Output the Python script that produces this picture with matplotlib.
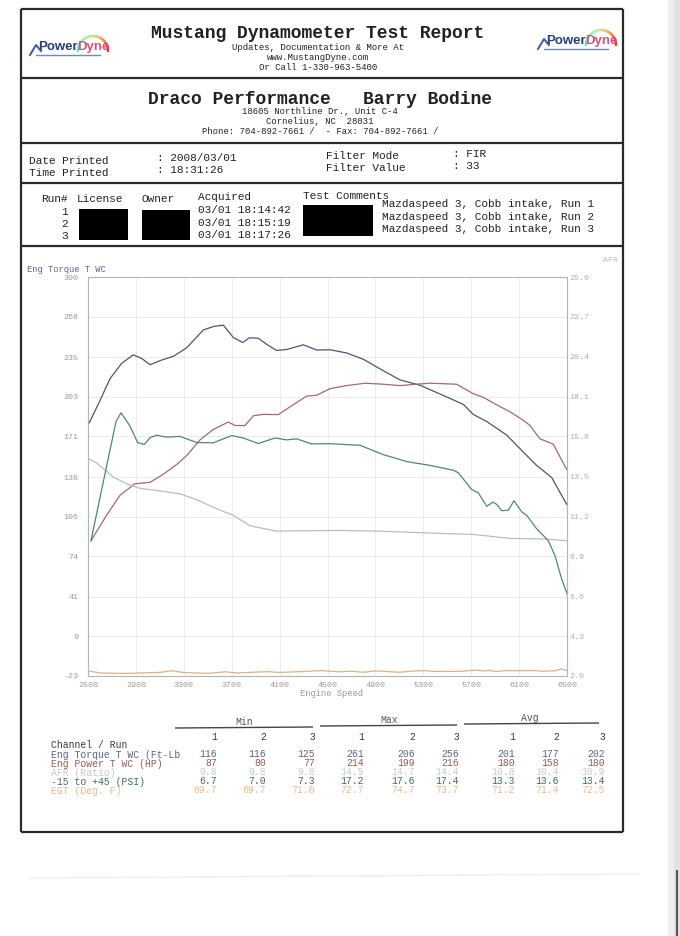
import matplotlib
matplotlib.use("Agg")
import matplotlib.pyplot as plt
from matplotlib.patches import Rectangle
import numpy as np

# ---------------- data ----------------
rpm_torque = [2511, 2600, 2684, 2780, 2878, 2950, 3018, 3110, 3213, 3324, 3463, 3550, 3630,
              3714, 3792, 3847, 3922, 4000, 4075, 4159, 4298, 4410, 4521, 4660, 4799, 4950,
              5105, 5272, 5439, 5634, 5718, 5830, 5997, 6135, 6247, 6372, 6497]
torque = [182, 200, 217.7, 230, 237, 234, 229, 232.6, 235.8, 242.7, 257.1, 260, 261,
          251, 247, 250.8, 250.4, 245, 240.5, 241.3, 245.1, 240.9, 241.1, 238.5, 233.4, 225,
          216.7, 212.4, 205.3, 196.9, 188.7, 183, 172, 158.3, 147.4, 137.7, 116]

rpm_power = [2525, 2656, 2767, 2892, 3018, 3129, 3240, 3324, 3435, 3546, 3672, 3728, 3811,
             3881, 3964, 4089, 4214, 4326, 4410, 4521, 4660, 4813, 4938, 5105, 5216, 5356,
             5578, 5718, 5801, 5913, 6024, 6135, 6191, 6274, 6385, 6497]
power = [86.5, 107.2, 123.3, 132.6, 133.8, 140.3, 148.2, 155.4, 168.1, 176.6, 182.6, 179.8, 179.7,
         187.7, 188.8, 188.6, 196.6, 203.6, 204.3, 209.6, 212.1, 214.0, 213.4, 212.1, 213.0, 214.0,
         213.2, 205.5, 202.6, 196.5, 190.9, 184.0, 179.8, 169.0, 164.7, 144.3]

rpm_boost = [2525, 2628, 2734, 2776, 2846, 2915, 2971, 3018, 3073, 3157, 3268, 3408, 3546,
             3700, 3797, 3922, 4061, 4159, 4242, 4368, 4521, 4771, 4966, 5162, 5356, 5551,
             5592, 5704, 5759, 5830, 5880, 5913, 5955, 6010, 6057, 6122, 6164, 6247, 6344,
             6400, 6456, 6503]
boost = [9.8, 13.2, 16.67, 17.17, 16.46, 15.45, 15.35, 15.74, 15.88, 15.77, 15.81, 15.46, 15.44,
         15.86, 15.72, 15.4, 15.72, 15.61, 15.67, 15.38, 15.39, 15.3, 14.76, 14.36, 14.14, 13.86,
         13.72, 12.75, 12.56, 11.78, 12.02, 11.9, 11.53, 11.56, 12.1, 11.46, 11.26, 10.48, 9.8,
         8.93, 7.58, 6.7]

rpm_afr = [2511, 2573, 2711, 2823, 2934, 3101, 3268, 3408, 3602, 3714, 3853, 4075, 4242,
           4604, 4938, 5356, 5718, 6024, 6302, 6503]
afr = [14.5, 14.27, 13.47, 13.08, 12.82, 12.67, 12.5, 12.16, 11.56, 11.26, 10.66, 10.35, 10.37,
       10.39, 10.35, 10.24, 10.16, 9.93, 9.9, 9.8]

rpm_egt = [2500, 2600, 2800, 3000, 3100, 3200, 3300, 3500, 3650, 3750, 3900, 4000, 4100, 4300,
           4450, 4600, 4700, 4800, 4900, 5000, 5100, 5200, 5300, 5400, 5600, 5750, 5800, 5850,
           5900, 6000, 6100, 6200, 6300, 6400, 6450, 6500]
egt = [71.5, 70.0, 69.7, 70.2, 70.4, 71.5, 70.3, 69.8, 70.8, 70.0, 70.6, 70.9, 70.4, 71.0,
       71.6, 70.8, 71.2, 70.5, 71.4, 71.0, 70.5, 71.2, 71.6, 71.0, 71.1, 72.0, 71.3, 71.8,
       71.0, 71.6, 71.5, 71.7, 71.2, 71.5, 72.7, 71.6]

x_ticks = [2500, 2900, 3300, 3700, 4100, 4500, 4900, 5300, 5700, 6100, 6500]
left_ticks = [-23, 9, 41, 74, 106, 138, 171, 203, 235, 268, 300]
right_ticks = [2.0, 4.3, 6.6, 8.9, 11.2, 13.5, 15.8, 18.1, 20.4, 22.7, 25.0]

channels = ["Eng Torque T WC (Ft-Lb", "Eng Power T WC (HP)", "AFR (Ratio)",
            "-15 to +45 (PSI)", "EGT (Deg. F)"]
stats = [
    ["116", "116", "125", "261", "206", "256", "201", "177", "202"],
    ["87", "80", "77", "214", "199", "216", "180", "158", "180"],
    ["9.8", "9.8", "9.8", "14.5", "14.7", "14.4", "10.8", "10.4", "10.9"],
    ["6.7", "7.0", "7.3", "17.2", "17.6", "17.4", "13.3", "13.6", "13.4"],
    ["69.7", "69.7", "71.0", "72.7", "74.7", "73.7", "71.2", "71.4", "72.5"],
]
run_times = ["03/01 18:14:42", "03/01 18:15:19", "03/01 18:17:26"]
run_comments = ["Mazdaspeed 3, Cobb intake, Run 1", "Mazdaspeed 3, Cobb intake, Run 2",
                "Mazdaspeed 3, Cobb intake, Run 3"]

# ---------------- styles ----------------
MONO = "Liberation Mono"
C_TORQUE = "#4c5672"
C_POWER = "#a86868"
C_BOOST = "#4a8a72"
C_AFR = "#bcbcbc"
C_EGT = "#e2b07c"
C_TICK = "#9a9a9a"
row_colors = ["#5a6685", "#9c5a5a", "#c9c9c9", "#3f6e5e", "#e8bb8c"]

W, H = 680, 936
fig = plt.figure(figsize=(W / 100, H / 100), dpi=100)
fig.patch.set_facecolor("white")

# overlay axes in pixel coordinates
pg = fig.add_axes([0, 0, 1, 1])
pg.set_xlim(0, W)
pg.set_ylim(H, 0)
pg.axis("off")


def T(x, y, s, size=8, color="#222222", ha="left", va="center", weight="normal", family=MONO, **kw):
    pg.text(x, y, s, fontsize=size, color=color, ha=ha, va=va, weight=weight, family=family, **kw)


def L(xs, ys, color="#2a2a2a", lw=1.6, **kw):
    pg.plot(xs, ys, color=color, lw=lw, solid_capstyle="butt", **kw)


# scan artefacts: right page edge shade
pg.add_patch(Rectangle((668, 0), 12, 936, color="#eeeeee", lw=0))
pg.add_patch(Rectangle((674, 0), 6, 936, color="#e2e2e2", lw=0))
L([677, 677], [870, 936], color="#555555", lw=1.5)
L([30, 640], [878, 874], color="#eeeeee", lw=1.0)

# page frame
fx0, fx1, fy0, fy1 = 21, 623, 9, 832
L([fx0, fx1], [fy0, fy0]); L([fx0, fx1], [fy1, fy1])
L([fx0, fx0], [fy0, fy1]); L([fx1, fx1], [fy0, fy1])
for yy in [78, 143, 183, 246]:
    L([fx0, fx1], [yy, yy])


# logos
def logo(x0, yc):
    th = np.linspace(np.pi, 0, 40)
    cx, cy, r = x0 + 55, yc + 4, 15
    cmap = plt.get_cmap("rainbow")
    for i in range(len(th) - 1):
        pg.plot([cx + r * np.cos(th[i]), cx + r * np.cos(th[i + 1])],
                [cy - r * np.sin(th[i]), cy - r * np.sin(th[i + 1])],
                color=cmap(0.35 + 0.65 * i / len(th)), lw=1.6, alpha=0.8)
    pg.plot([x0 - 8, x0 - 2, x0 + 3], [yc + 8, yc - 2, yc + 4], color="#3a5aa8", lw=1.4)
    pg.plot([x0 - 2, x0 + 62], [yc + 8, yc + 8], color="#7a86a8", lw=1.0)
    pg.text(x0, yc, "Power", fontsize=9.5, weight="bold", color="#24407e",
            family="Liberation Sans", ha="left", va="center")
    pg.text(x0 + 39, yc, "Dyne", fontsize=9.5, weight="bold", color="#d8517a",
            family="Liberation Sans", ha="left", va="center")


logo(38, 47)
logo(546, 41)

# header texts
T(318, 33, "Mustang Dynamometer Test Report", size=13, weight="bold", ha="center")
T(318, 47, "Updates, Documentation & More At", size=6.5, ha="center")
T(318, 57, "www.MustangDyne.com", size=6.5, ha="center")
T(318, 67, "Or Call 1-330-963-5400", size=6.5, ha="center")

T(320, 99, "Draco Performance   Barry Bodine", size=13, weight="bold", ha="center")
T(320, 112, "18605 Northline Dr., Unit C-4", size=6.4, ha="center")
T(320, 122, "Cornelius, NC  28031", size=6.4, ha="center")
T(320, 131, "Phone: 704-892-7661 /  - Fax: 704-892-7661 /", size=6.4, ha="center")

T(29, 161, "Date Printed", size=8)
T(29, 173, "Time Printed", size=8)
T(157, 158, ": 2008/03/01", size=8)
T(157, 170, ": 18:31:26", size=8)
T(326, 156, "Filter Mode", size=8)
T(326, 168, "Filter Value", size=8)
T(453, 154, ": FIR", size=8)
T(453, 166, ": 33", size=8)

# runs section
T(41, 199, "Run#", size=8)
T(77, 199, "License", size=8)
T(142, 199, "Owner", size=8)
T(198, 197, "Acquired", size=8)
T(303, 196, "Test Comments", size=8)
for i in range(3):
    T(68, 212 + 12 * i, str(i + 1), size=8, ha="right")
    T(198, 210 + 12.5 * i, run_times[i], size=8)
    T(382, 204 + 12.5 * i, run_comments[i], size=8)
pg.add_patch(Rectangle((79, 209), 49, 31, color="black", lw=0))
pg.add_patch(Rectangle((142, 210), 48, 30, color="black", lw=0))
pg.add_patch(Rectangle((303, 205), 70, 31, color="black", lw=0))

# ---------------- chart ----------------
px0, px1, py0, py1 = 88, 567, 277, 676
ax = fig.add_axes([px0 / W, 1 - py1 / H, (px1 - px0) / W, (py1 - py0) / H])
ax.set_xlim(2500, 6500)
ax.set_ylim(-23, 300)
ax.set_xticks(x_ticks)
ax.set_xticklabels([str(v) for v in x_ticks])
ax.set_yticks(left_ticks)
ax.set_yticklabels([str(v) for v in left_ticks])
ax.grid(True, color="#ececec", lw=0.7)
ax.set_axisbelow(True)
for s in ax.spines.values():
    s.set_color("#b4b4b4")
    s.set_linewidth(0.8)
ax.tick_params(length=0, labelsize=6, labelcolor=C_TICK, pad=7)
ax.tick_params(axis="x", pad=4)
for lab in ax.get_xticklabels() + ax.get_yticklabels():
    lab.set_family(MONO)

ax2 = ax.twinx()
ax2.set_ylim(2, 25)
ax2.set_yticks(right_ticks)
ax2.set_yticklabels([f"{v:.1f}" for v in right_ticks])
ax2.tick_params(length=0, labelsize=6, labelcolor="#b0b0b0", pad=2)
for lab in ax2.get_yticklabels():
    lab.set_family(MONO)
for s in ax2.spines.values():
    s.set_visible(False)

ax3 = ax.twinx()
ax3.set_ylim(68, 335)
ax3.axis("off")

ax2.plot(rpm_afr, afr, color=C_AFR, lw=0.9)
ax2.plot(rpm_boost, boost, color=C_BOOST, lw=0.9)
ax.plot(rpm_torque, torque, color=C_TORQUE, lw=0.9, zorder=3)
ax.plot(rpm_power, power, color=C_POWER, lw=0.9, zorder=3)
ax3.plot(rpm_egt, egt, color=C_EGT, lw=0.9)

T(27, 270, "Eng Torque T WC", size=6.3, color="#5a6888")
T(603, 260, "AFR", size=6, color="#bdbdbd")
T(331, 694, "Engine Speed", size=6.3, color=C_TICK, ha="center")

# ---------------- table ----------------
T(244, 722, "Min", size=7, color="#555555", ha="center")
T(389, 720, "Max", size=7, color="#555555", ha="center")
T(530, 718, "Avg", size=7, color="#555555", ha="center")
L([175, 313], [728, 727], color="#444444", lw=1.0)
L([320, 457], [726, 725], color="#444444", lw=1.0)
L([464, 599], [724, 723], color="#444444", lw=1.0)

col_x = [217, 266, 315, 364, 415, 459, 515, 559, 605]
T(51, 745, "Channel / Run", size=7, color="#3a3a3a")
for j, cx in enumerate(col_x):
    T(cx, 737, str(j % 3 + 1), size=7, color="#3a3a3a", ha="right")
for i, ch in enumerate(channels):
    yy = 755 + 9 * i
    T(51, yy, ch, size=7, color=row_colors[i])
    for j, cx in enumerate(col_x):
        T(cx, yy - 1, stats[i][j], size=7, color=row_colors[i], ha="right")

fig.savefig("out.png", dpi=100, facecolor="white")
